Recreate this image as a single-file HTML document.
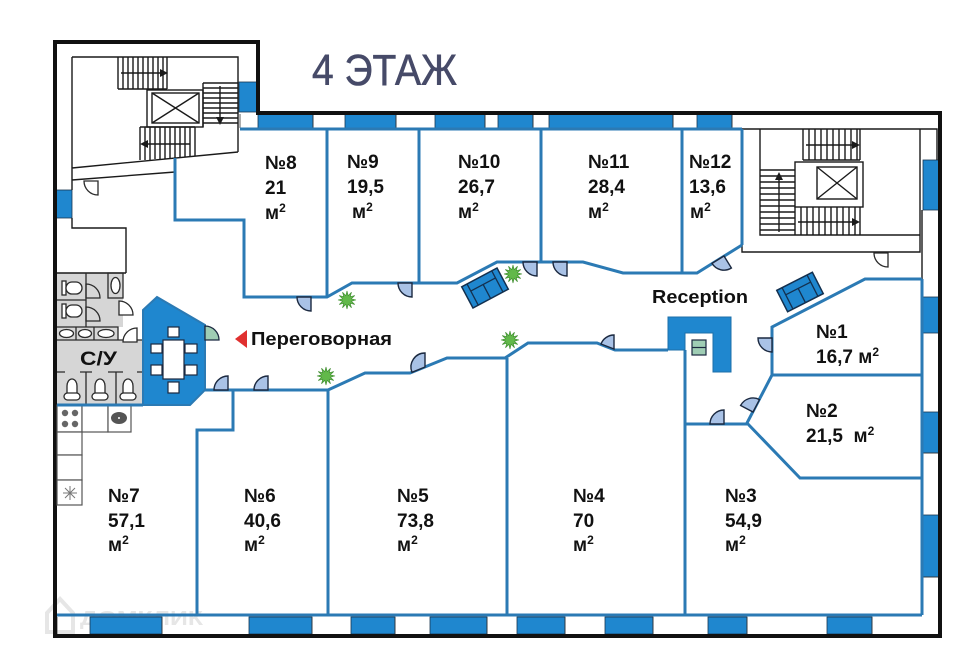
<!DOCTYPE html>
<html><head><meta charset="utf-8">
<style>html,body{margin:0;padding:0;background:#fff}svg{display:block}</style>
</head><body>
<svg width="960" height="658" viewBox="0 0 960 658" xmlns="http://www.w3.org/2000/svg">
<defs>
<polygon id="plant" points="9,0 4.35,1.17 7.79,4.5 3.18,3.18 4.5,7.79 1.17,4.35 0,9 -1.17,4.35 -4.5,7.79 -3.18,3.18 -7.79,4.5 -4.35,1.17 -9,0 -4.35,-1.17 -7.79,-4.5 -3.18,-3.18 -4.5,-7.79 -1.17,-4.35 0,-9 1.17,-4.35 4.5,-7.79 3.18,-3.18 7.79,-4.5 4.35,-1.17" fill="#62b94a" stroke="#3d8a2e" stroke-width="0.6"/>
<g id="sofa">
<rect x="-20" y="-12" width="40" height="24" fill="#1f87cf" stroke="#13304f" stroke-width="1.5"/>
<path d="M-14,-12V12 M14,-12V12 M-14,-4H14 M0,-4V12" stroke="#13304f" stroke-width="1.3" fill="none"/>
</g>
</defs>
<rect width="960" height="658" fill="#fff"/>

<!-- watermark -->
<path d="M47,613 L60,599 L73,613 L73,632 L47,632 Z" fill="none" stroke="#e6e6e6" stroke-width="4"/>
<text x="80" y="625" font-family="Liberation Sans, sans-serif" font-weight="bold" font-size="20" fill="#e6e6e6" textLength="123" lengthAdjust="spacingAndGlyphs">ДОМКЛИК</text>

<!-- gray toilet area -->
<rect x="57" y="273" width="66" height="54" fill="#d6d6d6"/>
<rect x="57" y="327" width="61" height="13" fill="#d6d6d6"/>
<rect x="57" y="340" width="85" height="65" fill="#d6d6d6"/>

<!-- windows -->
<g fill="#1f87cf" stroke="#1a3550" stroke-width="0.8">
<rect x="258" y="114.5" width="55" height="13.5"/>
<rect x="345" y="114.5" width="51" height="13.5"/>
<rect x="435" y="114.5" width="50" height="13.5"/>
<rect x="498" y="114.5" width="35" height="13.5"/>
<rect x="549" y="114.5" width="124" height="13.5"/>
<rect x="697" y="114.5" width="35" height="13.5"/>
<rect x="90" y="617" width="72" height="17"/>
<rect x="249" y="617" width="63" height="17"/>
<rect x="351" y="617" width="44" height="17"/>
<rect x="430" y="617" width="57" height="17"/>
<rect x="517" y="617" width="48" height="17"/>
<rect x="605" y="617" width="48" height="17"/>
<rect x="708" y="617" width="39" height="17"/>
<rect x="827" y="617" width="45" height="17"/>
<rect x="923" y="160" width="16" height="50"/>
<rect x="923" y="297" width="16" height="36"/>
<rect x="923" y="412" width="16" height="41"/>
<rect x="923" y="515" width="16" height="62"/>
<rect x="56" y="190" width="16" height="28"/>
<rect x="239" y="82" width="18" height="30"/>
</g>
<path d="M240,114V128 M313,114V128 M396,114V128 M485,114V128 M533,114V128 M673,114V128 M732,114V128 M57,617V634 M162,617V634 M312,617V634 M395,617V634 M487,617V634 M565,617V634 M653,617V634 M747,617V634 M872,617V634 M923,453H939 M923,577H939" stroke="#333" stroke-width="0.8" fill="none"/>

<!-- thin black structural lines -->
<g stroke="#1a1a1a" stroke-width="1.4" fill="none">
<path d="M72,57 H238 V152 M72,57 V190 M72,168 L238,152 M72,180 L175,172"/>
<path d="M72,218 V228 H126 V273 M57,273 H126"/>
<path d="M742,129 H937 V160 M742,129 V252 H920 V129 M760,129 V235 H920 M922,210 V279"/>
<!-- left stair -->
<path d="M118,57V89 M123,57V89 M128,57V89 M133,57V89 M138,57V89 M143,57V89 M148,57V89 M153,57V89 M158,57V89 M163,57V89 M167,57V89 M118,89H167"/>
<path d="M203,83H238 M203,88H238 M203,93H238 M203,98H238 M203,103H238 M203,108H238 M203,113H238 M203,118H238 M203,123H238 M203,83V127"/>
<path d="M140,127V160 M145,127V160 M150,127V160 M155,127V159 M160,127V159 M165,127V159 M170,127V158 M175,127V158 M180,127V157 M185,127V157 M190,127V157 M195,127V156 M140,127H195"/>
<rect x="147" y="90" width="56" height="37"/>
<rect x="152" y="93" width="47" height="30"/>
<path d="M152,93 L199,123 M199,93 L152,123"/>
<path d="M121,73H161 M220,86V118 M190,144H147"/>
<!-- right stair -->
<path d="M803,129V160 M809,129V160 M815,129V160 M821,129V160 M827,129V160 M833,129V160 M839,129V160 M845,129V160 M851,129V160 M857,129V160 M860,129V160 M803,160H860"/>
<path d="M760,170H795 M760,176H795 M760,182H795 M760,188H795 M760,194H795 M760,200H795 M760,206H795 M760,212H795 M760,218H795 M760,224H795 M760,230H795 M779,232V180"/>
<path d="M795,207V235 M801,207V235 M807,207V235 M813,207V235 M819,207V235 M825,207V235 M831,207V235 M837,207V235 M843,207V235 M849,207V235 M855,207V235 M860,207V235"/>
<rect x="795" y="162" width="68" height="45"/>
<rect x="817" y="167" width="40" height="32"/>
<path d="M817,167 L857,199 M857,167 L817,199"/>
<path d="M806,145H852 M798,222H852"/>
</g>
<g fill="#1a1a1a">
<polygon points="168,73 160,69 160,77"/>
<polygon points="220,125 216,117 224,117"/>
<polygon points="140,144 148,140 148,148"/>
<polygon points="860,145 852,141 852,149"/>
<polygon points="860,222 852,218 852,226"/>
<polygon points="779,172 775,180 783,180"/>
</g>

<!-- outer black wall -->
<path d="M55,42 H258 V113 H940 V636 H55 Z" fill="none" stroke="#111" stroke-width="4"/>

<!-- toilet details -->
<g stroke="#2a2a2a" stroke-width="1.3" fill="none">
<path d="M86,273 V327 M57,300 H86 M57,327 H118 V340 M57,340 H142 M76,327 V340 M94,327 V340"/>
<rect x="108" y="273" width="15" height="25"/>
<path d="M57,372 H65 M80,372 H92 M108,372 H123 M137,372 H142 M86,372 V405 M116,372 V405"/>
<path d="M86,284 A14,14 0 0 1 100,298 L86,298 Z"/>
<path d="M86,307 A14,14 0 0 1 100,321 L86,321 Z"/>
</g>
<g stroke="#2a2a2a" stroke-width="1.3" fill="#fff">
<ellipse cx="115.5" cy="285.5" rx="4.5" ry="8"/>
<rect x="62" y="281" width="4" height="14"/>
<rect x="66" y="282" width="16" height="12" rx="6"/>
<rect x="62" y="304" width="4" height="14"/>
<rect x="66" y="305" width="16" height="12" rx="6"/>
<ellipse cx="66.5" cy="333.5" rx="7" ry="4"/>
<ellipse cx="85" cy="333.5" rx="6.5" ry="4"/>
<ellipse cx="106" cy="333.5" rx="8" ry="4"/>
<path d="M67,393 V386 A5,7 0 0 1 77,386 V393"/>
<rect x="64" y="393" width="16" height="7" rx="3.5"/>
<path d="M95,393 V386 A5,7 0 0 1 105,386 V393"/>
<rect x="92" y="393" width="16" height="7" rx="3.5"/>
<path d="M123,393 V386 A5,7 0 0 1 133,386 V393"/>
<rect x="120" y="393" width="16" height="7" rx="3.5"/>
<path d="M119,315 L119,301 A14,14 0 0 1 133,315 Z"/>
<path d="M137,342 L123,342 A14,14 0 0 1 137,328 Z"/>
<path d="M98,181 L84,181 A14,14 0 0 0 98,195 Z"/>
<path d="M888,253 L874,253 A14,14 0 0 0 888,267 Z"/>
</g>
<text x="80" y="365" font-family="Liberation Sans, sans-serif" font-weight="bold" font-size="19" fill="#111" textLength="37" lengthAdjust="spacingAndGlyphs">С/У</text>

<!-- kitchen -->
<g stroke="#555" stroke-width="1.2" fill="#fff">
<rect x="57" y="405" width="25" height="27"/>
<rect x="82" y="405" width="26" height="27"/>
<rect x="108" y="405" width="23" height="27"/>
<rect x="57" y="432" width="25" height="23"/>
<rect x="57" y="455" width="25" height="25"/>
<rect x="57" y="480" width="25" height="25"/>
</g>
<g fill="#666">
<circle cx="65" cy="413" r="3.2"/><circle cx="75" cy="413" r="3.2"/>
<circle cx="65" cy="424" r="3.2"/><circle cx="75" cy="424" r="3.2"/>
<ellipse cx="119" cy="418" rx="8" ry="6" fill="#555"/>
</g>
<circle cx="119" cy="418" r="1" fill="#fff"/>
<path d="M63,493 H77 M70,486 V500 M65,488 L75,498 M75,488 L65,498" stroke="#777" stroke-width="1"/>

<!-- meeting room -->
<polygon points="143,310 157,297 205,325 205,390 190,405 143,405" fill="#1f87cf" stroke="#2b7ab4" stroke-width="2"/>
<g fill="#fff" stroke="#1b2940" stroke-width="1.2">
<rect x="163" y="340" width="21" height="39"/>
<rect x="168" y="327" width="11" height="10"/>
<rect x="168" y="382" width="11" height="11"/>
<rect x="151" y="344" width="11" height="9"/>
<rect x="151" y="365" width="11" height="10"/>
<rect x="185" y="344" width="12" height="9"/>
<rect x="185" y="365" width="12" height="10"/>
</g>
<path d="M205,340 L205,326 A14,14 0 0 1 219,340 Z" fill="#9fcdb4" stroke="#1b2940" stroke-width="1.3"/>

<!-- blue walls -->
<g stroke="#2b7ab4" stroke-width="3" fill="none" stroke-linejoin="miter">
<path d="M240,129 H742"/>
<path d="M175,158 V220 H244 V297 H327 L352,283 H457 L497,262 H583 L623,273 H697 L742,245"/>
<path d="M327,129 V297 M419,129 V283 M541,129 V262 M682,129 V273 M742,129 V245"/>
<path d="M922,279 H865 L772,327 V375 H922"/>
<path d="M772,375 L747,423 L800,478 H922"/>
<path d="M922,279 V615 M57,615 H922"/>
<path d="M205,390 H328 L365,373 H410 L447,358 H505 L528,343 H597 L615,350 H668"/>
<path d="M685,350 V615 M685,424 H747"/>
<path d="M233,390 V430 H197 V615 M328,390 V615 M507,358 V615"/>
<path d="M57,405 H143"/>
</g>

<!-- reception desk -->
<polygon points="668,317 731,317 731,372 713,372 713,333 685,333 685,350 668,350" fill="#1f87cf" stroke="#1d6fa8" stroke-width="1"/>
<rect x="692" y="340" width="14" height="15" fill="#9fcdb4" stroke="#1b2940" stroke-width="1.2"/>
<path d="M692,347.5 H706" stroke="#1b2940" stroke-width="1.2"/>

<!-- doors -->
<g fill="#a9c2e6" stroke="#1b2940" stroke-width="1.4">
<path d="M311,297 L297,297 A14,14 0 0 0 311,311 Z"/>
<path d="M412,283 L398,283 A14,14 0 0 0 412,297 Z"/>
<path d="M537,262 L523,262 A14,14 0 0 0 537,276 Z"/>
<path d="M567,262 L553,262 A14,14 0 0 0 567,276 Z"/>
<path d="M724,256 L712,263.4 A14,14 0 0 0 731.4,268 Z"/>
<path d="M772,338 L758,338 A14,14 0 0 0 772,352 Z"/>
<path d="M753,412 L759.5,399.6 A14,14 0 0 0 740.6,405.5 Z"/>
<path d="M724,424 L710,424 A14,14 0 0 1 724,410 Z"/>
<path d="M614,349 L601,344 A14,14 0 0 1 614,335 Z"/>
<path d="M425,367 L412,372.3 A14,14 0 0 1 425,353 Z"/>
<path d="M268,390 L254,390 A14,14 0 0 1 268,376 Z"/>
<path d="M228,390 L214,390 A14,14 0 0 1 228,376 Z"/>
</g>

<!-- sofas & plants -->
<use href="#sofa" transform="translate(485,288) rotate(-28)"/>
<use href="#sofa" transform="translate(800,292) rotate(-27)"/>
<use href="#plant" transform="translate(347,300)"/>
<use href="#plant" transform="translate(513,274)"/>
<use href="#plant" transform="translate(510,340)"/>
<use href="#plant" transform="translate(326,376)"/>

<!-- labels -->
<polygon points="235,339 247,330 247,348" fill="#e0302f"/>
<g font-family="Liberation Sans, sans-serif" font-weight="bold" fill="#111">
<text x="251" y="345" font-size="18" textLength="141" lengthAdjust="spacingAndGlyphs">Переговорная</text>
<text x="652" y="303" font-size="18" textLength="96" lengthAdjust="spacingAndGlyphs">Reception</text>
<g font-size="19">
<text x="265" y="169">№8</text><text x="265" y="194">21</text><text x="265" y="219">м<tspan font-size="12" dy="-7">2</tspan></text>
<text x="347" y="168">№9</text><text x="347" y="193">19,5</text><text x="352" y="218">м<tspan font-size="12" dy="-7">2</tspan></text>
<text x="458" y="168">№10</text><text x="458" y="193">26,7</text><text x="458" y="218">м<tspan font-size="12" dy="-7">2</tspan></text>
<text x="588" y="168">№11</text><text x="588" y="193">28,4</text><text x="588" y="218">м<tspan font-size="12" dy="-7">2</tspan></text>
<text x="689" y="168">№12</text><text x="689" y="193">13,6</text><text x="690" y="218">м<tspan font-size="12" dy="-7">2</tspan></text>
<text x="816" y="338">№1</text><text x="816" y="363">16,7 м<tspan font-size="12" dy="-7">2</tspan></text>
<text x="806" y="417">№2</text><text x="806" y="442" xml:space="preserve">21,5  м<tspan font-size="12" dy="-7">2</tspan></text>
<text x="108" y="502">№7</text><text x="108" y="527">57,1</text><text x="108" y="551">м<tspan font-size="12" dy="-7">2</tspan></text>
<text x="244" y="502">№6</text><text x="244" y="527">40,6</text><text x="244" y="551">м<tspan font-size="12" dy="-7">2</tspan></text>
<text x="397" y="502">№5</text><text x="397" y="527">73,8</text><text x="397" y="551">м<tspan font-size="12" dy="-7">2</tspan></text>
<text x="573" y="502">№4</text><text x="573" y="527">70</text><text x="573" y="551">м<tspan font-size="12" dy="-7">2</tspan></text>
<text x="725" y="502">№3</text><text x="725" y="527">54,9</text><text x="725" y="551">м<tspan font-size="12" dy="-7">2</tspan></text>
</g>
</g>

<!-- title -->
<text x="312" y="85" font-family="Liberation Sans, sans-serif" font-size="44" fill="#464a68" stroke="#464a68" stroke-width="0.6" textLength="145" lengthAdjust="spacingAndGlyphs">4 ЭТАЖ</text>
</svg>
</body></html>
